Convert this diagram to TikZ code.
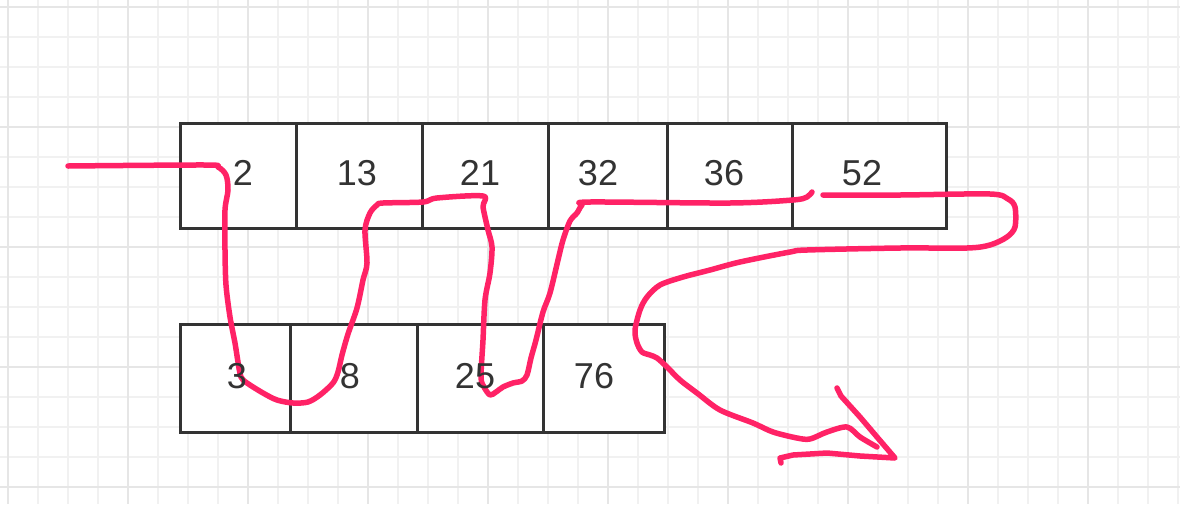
\documentclass[tikz,border=0pt]{standalone}
\usepackage{fontspec}
\setmainfont{Liberation Sans}
\usepackage{tikz}
\usetikzlibrary{positioning}

\definecolor{penpink}{HTML}{FF2266}
\definecolor{ink}{HTML}{333333}
\definecolor{gridminor}{HTML}{F1F1F1}
\definecolor{gridmajor}{HTML}{E6E6E6}

\tikzset{
  cell/.style={draw=ink, line width=3pt, fill=white, inner sep=0pt, outer sep=0pt},
  num/.style={text=ink, font=\fontsize{36}{40}\selectfont, inner sep=0pt},
  scribble/.style={draw=penpink, line width=5.5pt, line cap=round, line join=round}
}

\begin{document}
\begin{tikzpicture}[x=1pt, y=-1pt]
        \useasboundingbox (0,0) rectangle (1180,504);
        \fill[white] (0,0) rectangle (1180,504);
        % paper grid
        \foreach \k in {0,...,39} \draw[gridminor, line width=2pt] (8.3+30*\k,0) -- ++(0,504);
        \foreach \k in {0,...,16} \draw[gridminor, line width=2pt] (0,6.7+30*\k) -- ++(1180,0);
        \foreach \k in {0,...,9} \draw[gridmajor, line width=2pt] (8.3+120*\k,0) -- ++(0,504);
        \foreach \k in {0,...,4} \draw[gridmajor, line width=2pt] (0,6.7+120*\k) -- ++(1180,0);

        % first array
        \node[cell, minimum width=116pt, minimum height=105pt] (t1) at (238,175.5) {};
        \node[cell, minimum width=126pt, minimum height=105pt, right=0pt of t1] (t2) {};
        \node[cell, minimum width=126pt, minimum height=105pt, right=0pt of t2] (t3) {};
        \node[cell, minimum width=119pt, minimum height=105pt, right=0pt of t3] (t4) {};
        \node[cell, minimum width=125pt, minimum height=105pt, right=0pt of t4] (t5) {};
        \node[cell, minimum width=154pt, minimum height=105pt, right=0pt of t5] (t6) {};

        % second array
        \node[cell, minimum width=110pt, minimum height=108pt] (b1) at (235,378) {};
        \node[cell, minimum width=127pt, minimum height=108pt, right=0pt of b1] (b2) {};
        \node[cell, minimum width=126pt, minimum height=108pt, right=0pt of b2] (b3) {};
        \node[cell, minimum width=121pt, minimum height=108pt, right=0pt of b3] (b4) {};

        % merge path, drawn by hand
        \draw[scribble] plot[smooth, tension=0.5] coordinates {
          (68,166) (205,165) (218,167) (226,175) (228,190) (225,210) (225,250)
          (226,285) (230,317) (235,343) (238,362) (241,377) (247,383) (263,393)
          (277,400) (293,403) (308,402) (320,395) (333,383) (338,372) (342,355)
          (348,334) (357,308) (363,280) (367,263) (365,230) (370,213) (377,205)
          (383,203) (423,202) (437,198) (483,196) (483,207) (488,230) (492,247)
          (490,273) (485,300) (483,340) (481,377) (484,387) (490,395) (496,392)
          (503,387) (513,383) (522,381) (527,375) (531,358) (536,340) (543,312)
          (550,293) (558,260) (563,240) (570,221) (577,213) (582,205) (590,202)
          (730,203) (793,200) (807,197) (812,192)};
        \draw[scribble] plot[smooth, tension=0.5] coordinates {
          (823,195) (900,195) (990,194) (1008,199) (1015,207) (1015,227)
          (1007,237) (990,245) (967,248) (900,248) (807,250) (790,252)
          (740,262) (710,270) (683,277) (660,285) (647,297) (640,310)
          (635,330) (637,343) (642,352) (650,355) (657,358) (667,367)
          (680,380) (697,393) (720,410) (753,423) (773,432) (797,438)
          (810,439) (827,432) (847,427) (860,437) (877,447)};
        \draw[scribble] (837,388) -- (841,396) -- (860,417) -- (877,437) -- (895,458)
          -- (860,456) -- (827,453) -- (793,455) -- (780,458) -- (781,463);

        % numbers
        \node[num] (n2)  at (243,173) {2};
        \node[num] (n13) at (357,173) {13};
        \node[num] (n21) at (480,173) {21};
        \node[num] (n32) at (598,173) {32};
        \node[num] (n36) at (724,173) {36};
        \node[num] (n52) at (862,173) {52};
        \node[num] (n3)  at (237,376) {3};
        \node[num] (n8)  at (350,376) {8};
        \node[num] (n25) at (475,376) {25};
        \node[num] (n76) at (594,376) {76};
    \end{tikzpicture}
\end{document}
